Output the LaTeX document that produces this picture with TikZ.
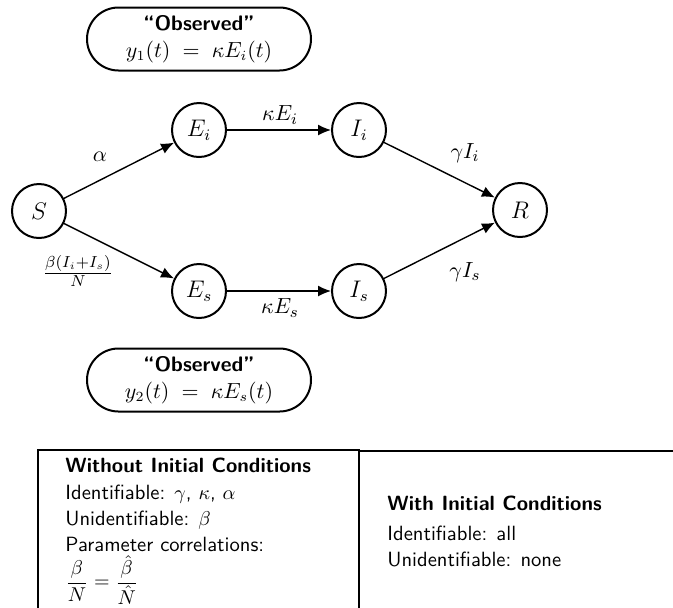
\documentclass[tikz,border=0pt]{standalone}
\usepackage{amsmath}
\usetikzlibrary{arrows.meta,shapes.misc}
\begin{document}
\begin{tikzpicture}[x=0.5pt,y=-0.5pt,
  state/.style={circle,draw,line width=1pt,minimum size=27pt,inner sep=0pt,font=\fontsize{12}{14}\selectfont},
  flow/.style={-{Latex[length=6.5pt,width=5.5pt]},line width=0.7pt},
  obs/.style={rounded rectangle,draw,line width=1pt,minimum width=114pt,minimum height=31.5pt,align=center,inner sep=1pt,font=\fontsize{10.5}{12.5}\selectfont},
  lbl/.style={inner sep=0pt,font=\fontsize{11}{13}\selectfont},
  txt/.style={anchor=base west,inner sep=0pt,font=\fontsize{10.3}{12}\selectfont\sffamily},
  hdr/.style={anchor=base west,inner sep=0pt,font=\fontsize{10.3}{12}\selectfont\sffamily\bfseries},
  frame/.style={line width=0.9pt}]
\useasboundingbox (0,0) rectangle (673,607);

% observed boxes
\node[obs] (obs1) at (199,39) {\sffamily\bfseries “Observed”\\[1pt] $y_1(t)\;=\;\kappa E_i(t)$};
\node[obs] (obs2) at (199,380) {\sffamily\bfseries “Observed”\\[1pt] $y_2(t)\;=\;\kappa E_s(t)$};

% states
\node[state] (S)  at (39,211)  {$S$};
\node[state] (Ei) at (199,130) {$E_i$};
\node[state] (Ii) at (359,130) {$I_i$};
\node[state] (R)  at (520,210) {$R$};
\node[state] (Es) at (199,291) {$E_s$};
\node[state] (Is) at (359,291) {$I_s$};

% flows
\draw[flow] (S) -- (Ei);
\draw[flow] (S) -- (Es);
\draw[flow] (Ei) -- (Ii);
\draw[flow] (Es) -- (Is);
\draw[flow] (Ii) -- (R);
\draw[flow] (Is) -- (R);

% labels
\node[lbl] (la) at (100,157) {$\alpha$};
\node[lbl] (lb) at (78,271) {$\frac{\beta(I_i+I_s)}{N}$};
\node[lbl] (lki) at (280,115) {$\kappa E_i$};
\node[lbl] (lks) at (280,308) {$\kappa E_s$};
\node[lbl] (lgi) at (465,153) {$\gamma I_i$};
\node[lbl] (lgs) at (465,272) {$\gamma I_s$};

% tables
\begin{scope}
\clip (0,0) rectangle (673,607);
\draw[frame] (38,450) rectangle (359,640);
\draw[frame] (359,451) rectangle (700,640);
\end{scope}

\node[hdr] (h1) at (65,472) {Without Initial Conditions};
\node[txt] (t1) at (65,499) {Identifiable: $\gamma$, $\kappa$, $\alpha$};
\node[txt] (t2) at (65,525) {Unidentifiable: $\beta$};
\node[txt] (t3) at (65,551) {Parameter correlations:};
\node[anchor=west,inner sep=0pt,font=\fontsize{10.3}{12}\selectfont] (t4) at (65,580) {$\displaystyle\frac{\beta}{N}=\frac{\hat{\beta}}{\hat{N}}$};

\node[hdr] (h2) at (387,510) {With Initial Conditions};
\node[txt] (u1) at (387,540) {Identifiable: all};
\node[txt] (u2) at (387,566) {Unidentifiable: none};
\end{tikzpicture}
\end{document}
